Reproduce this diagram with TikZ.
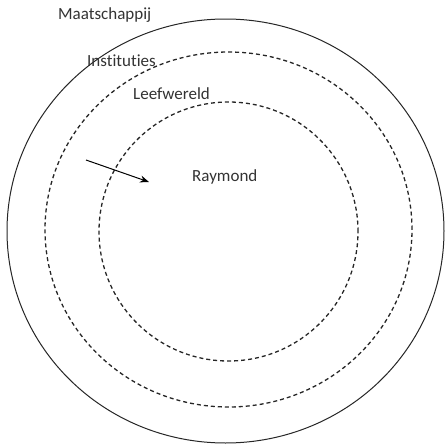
\documentclass[tikz,border=0pt]{standalone}
\usepackage{fontspec}
\setmainfont[Ligatures=NoCommon]{Carlito}
\usetikzlibrary{arrows.meta,shapes.geometric}
\begin{document}
\begin{tikzpicture}[x=1pt,y=-1pt,
  ring/.style={draw=black!85,ellipse,inner sep=0pt,outer sep=0pt},
  dashring/.style={ring,line width=1.3pt,dash pattern=on 4pt off 3pt},
  lbl/.style={anchor=west,inner sep=0pt,font=\fontsize{17}{20}\selectfont,text=black!80}]
\useasboundingbox (0,0) rectangle (445,447);
\node[ring,line width=1pt,minimum width=437pt,minimum height=424pt] (outer) at (225.5,231) {};
\node[dashring,minimum width=367pt,minimum height=355pt] (middle) at (228.5,229.5) {};
\node[dashring,minimum width=259pt,minimum height=259pt] (inner) at (228.5,231.5) {};
\node[lbl] (maat) at (58,15) {Maatschappij};
\node[lbl] (inst) at (87,61) {Instituties};
\node[lbl] (leef) at (133,94) {Leefwereld};
\node[lbl] (ray) at (192,177) {Raymond};
\coordinate (a) at (86,160);
\coordinate (b) at (149,182);
\draw[line width=1pt,-{Stealth[length=9pt,width=7pt]}] (a) -- (b);
\end{tikzpicture}
\end{document}
